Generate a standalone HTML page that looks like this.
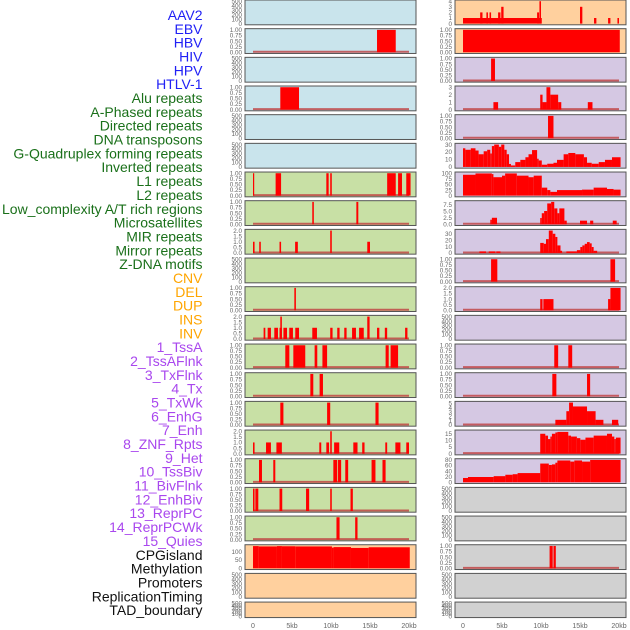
<!DOCTYPE html>
<html><head><meta charset="utf-8"><style>
html,body{margin:0;padding:0;background:#fff;}
svg{display:block;font-family:"Liberation Sans",sans-serif;}
</style></head><body>
<svg id="chart" width="630" height="630" viewBox="0 0 630 630" xmlns="http://www.w3.org/2000/svg"></svg>
<script>
const trackLabels = ["AAV2","EBV","HBV","HIV","HPV","HTLV-1","Alu repeats","A-Phased repeats","Directed repeats","DNA transposons","G-Quadruplex forming repeats","Inverted repeats","L1 repeats","L2 repeats","Low_complexity A/T rich regions","Microsatellites","MIR repeats","Mirror repeats","Z-DNA motifs","CNV","DEL","DUP","INS","INV","1_TssA","2_TssAFlnk","3_TxFlnk","4_Tx","5_TxWk","6_EnhG","7_Enh","8_ZNF_Rpts","9_Het","10_TssBiv","11_BivFlnk","12_EnhBiv","13_ReprPC","14_ReprPCWk","15_Quies","CPGisland","Methylation","Promoters","ReplicationTiming","TAD_boundary"];
const labelGroups = ["v","v","v","v","v","v","r","r","r","r","r","r","r","r","r","r","r","r","r","c","c","c","c","c","s","s","s","s","s","s","s","s","s","s","s","s","s","s","s","k","k","k","k","k"];
const xTickValues = [0,5,10,15,20];
const xTickLabels = ["0","5kb","10kb","15kb","20kb"];

// tick sets
const ticksEmpty = [0,100,200,300,400,500];
const ticksBin = [0,0.25,0.5,0.75,1];
const ticksTwo = [0,0.5,1,1.5,2];

// left column series [startKb, endKb, value]
const L2 = [[15.9,18.3,1]];
const L4 = [[3.5,5.9,1]];
const L7 = [[0,0.15,1],[2.9,3.6,1],[9.4,9.7,1],[9.9,10.1,1],[17.2,18.3,1],[18.6,19.1,1],[19.65,20.2,1]];
const L8 = [[7.6,7.8,1],[13.25,13.5,1]];
const L9 = [[0,0.2,1],[0.8,1.0,1],[3.4,3.6,1],[5.4,5.75,1],[9.9,10.1,2],[14.65,15,1]];
const L11 = [[5.3,5.5,1]];
const L12 = [[1.36,1.58,1],[1.88,2.3,1],[2.73,3.2,1],[3.4,3.7,1],[3.5,3.7,2],[3.9,4.36,1],[4.65,5.12,1],[5.42,5.9,1],[7.6,8.2,1],[9.9,10.2,1],[10.8,11.1,1],[11.7,12.0,1],[12.7,13.2,1],[13.6,14.2,1],[14.65,14.95,2],[15.9,16.2,1],[16.9,17.2,1],[19.5,19.8,1]];
const L13 = [[4.14,4.66,1],[5.17,6.7,1],[7.9,8.24,1],[8.9,9.5,1],[17.0,17.4,1],[17.64,18.6,1]];
const L14 = [[7.35,7.73,1],[8.54,8.97,1]];
const L15 = [[3.5,3.9,1],[9.5,9.9,1],[15.7,16.1,1]];
const L16 = [[0,0.2,1],[1.67,2.3,1],[3.0,3.7,1],[8.5,8.75,1],[9.4,9.75,1],[9.9,10.1,2],[10.4,11.06,1],[12.86,13.4,1],[14.0,14.3,1],[16.96,17.2,1],[18.25,18.9,1],[19.65,20.0,1]];
const L17 = [[0.77,1.15,1],[2.6,2.86,1],[10.3,10.8,1],[10.9,11.3,1],[11.83,12.2,1],[15.2,15.7,1],[16.6,17.0,1]];
const L18 = [[0,0.2,1],[0.3,0.68,1],[3.4,3.75,1],[6.8,7.2,1],[9.9,10.1,1],[12.5,12.8,1]];
const L19 = [[10.7,11.1,1],[13.1,13.4,1]];
const L20 = [[0,0.73,133],[0.73,3.07,131],[3.07,3.71,133],[3.71,5.42,132],[5.42,10.12,131],[10.12,10.33,124],[10.33,12.56,127],[12.56,14.83,122],[14.83,20.1,126]];

// right column series
const R1 = [[0,10.1,1],[2.2,2.5,2],[3.0,3.2,2],[3.4,3.6,2],[4.5,4.8,2],[4.9,5.2,3],[9.5,9.75,2],[9.8,10.0,4],[15.0,15.3,3],[16.8,17.1,1],[18.6,18.9,1],[19.8,20.0,1]];
const R2 = [[0,20.1,1]];
const R3 = [[3.6,4.1,1]];
const R4 = [[3.9,4.5,1],[9.9,10.2,2],[10.2,10.7,1],[10.7,11.2,3],[11.2,12.2,2],[12.2,12.6,1],[16,16.6,1]];
const R5 = [[10.9,11.6,1]];
const R6 = [[0,0.3,25],[0.3,1.0,23],[1.0,1.6,25],[1.6,2.0,22],[2.0,2.65,17],[2.65,3.1,21],[3.1,3.5,23],[3.5,3.7,18],[3.7,4.0,28],[4.0,4.6,30],[4.6,4.9,27],[4.9,5.3,30],[5.3,5.6,23],[5.6,5.9,17],[5.9,6.15,4],[6.15,6.7,2],[6.7,7.35,6.5],[7.35,8.0,9.5],[8.0,8.4,13],[8.4,8.85,17],[8.85,9.5,22.6],[9.5,9.7,11],[9.7,10.1,8.7],[10.1,10.8,3],[10.8,11.6,4.3],[11.6,12.05,5.6],[12.05,12.9,9.5],[12.9,13.5,17],[13.5,14.4,18.7],[14.4,15.5,17],[15.5,15.9,13],[15.9,16.5,5.6],[16.5,17.4,4.3],[17.4,18.2,6.5],[18.2,19.1,9.5],[19.1,20.2,13]];
const R7 = [[0,1.6,94],[1.6,3.7,100],[3.7,3.9,97],[3.9,5.0,83],[5.0,5.4,90],[5.4,6.9,100],[6.9,8.4,90],[8.4,9.06,83],[9.06,10.1,90],[10.1,10.8,36],[10.8,11.2,25],[11.2,12.05,17],[12.05,15.26,25],[15.26,16.75,27],[16.75,18.46,36],[18.46,19.3,30],[19.3,20.2,27]];
const R8 = [[3.5,3.7,1.75],[3.7,4.36,2.5],[9.9,10.1,2.4],[10.1,10.4,4.25],[10.4,10.8,5.1],[10.8,11.3,8],[11.3,11.7,8.6],[11.7,12.1,6.1],[12.1,12.35,4.25],[12.35,13.0,6.1],[13.0,13.3,1.4],[15.0,15.9,1.4],[16.3,16.7,1.4],[19.2,19.7,1.4]];
const R9 = [[2.1,2.95,2.5],[3.3,4.15,2.5],[4.27,4.8,2.5],[9.9,10.35,15.7],[10.35,10.64,14.3],[10.64,11.0,21.6],[11.0,11.5,35],[11.5,11.84,30],[11.84,12.1,25],[12.1,12.5,11.8],[12.5,12.7,3.4],[13.25,14.6,2.5],[14.6,15.04,4.4],[15.04,15.3,9.3],[15.3,15.6,11.8],[15.6,15.9,14.3],[15.9,16.24,17],[16.24,16.5,15],[16.5,16.75,9.3],[16.75,17.2,3.4]];
const R10 = [[3.6,4.4,1],[18.9,19.5,1]];
const R11 = [[9.9,10.2,1],[10.3,11.6,1],[18.6,18.9,1],[18.9,20.2,2]];
const R13 = [[11.7,12.2,1],[13.5,14.0,1]];
const R14 = [[11.45,11.97,1],[15.9,16.3,1]];
const R15 = [[11.84,13.25,1.2],[13.25,13.6,3.2],[13.6,14.1,5.2],[14.1,15.9,4.3],[15.9,17.0,3.2],[17.0,18.0,1.2],[19.1,19.9,1.2]];
const R16 = [[9.9,10.55,15],[10.55,10.9,13.6],[10.9,11.2,11],[11.2,11.4,12.9],[11.4,11.84,15],[11.84,12.1,16],[12.1,13.5,16.4],[13.5,13.85,13.6],[13.85,14.6,12.9],[14.6,15.04,11.7],[15.04,15.7,10.5],[15.7,16.75,12.1],[16.75,18.46,13.6],[18.46,19.1,15],[19.1,19.4,12.9],[19.4,19.6,11],[19.6,20.2,12.1]];
const R17 = [[0,0.64,15.5],[0.64,3.93,19],[3.93,5.43,22],[5.43,6.37,27],[6.37,7.0,29],[7.0,9.9,33],[9.9,11.0,67],[11.0,11.4,62],[11.4,11.84,64],[11.84,12.1,70],[12.1,13.76,78],[13.76,14.27,74],[14.27,15.26,78],[15.26,16.3,74],[16.3,20.2,80]];
const R20 = [[11.1,11.5,1],[11.6,11.9,1]];

const BG = {b:"#c9e4ec", g:"#c8e0a5", o:"#ffd09e", p:"#d5c8e3", k:"#d1d1d1"};
const leftPanels = [
 {bg:"b",t:ticksEmpty},{bg:"b",t:ticksBin,d:L2},{bg:"b",t:ticksEmpty},{bg:"b",t:ticksBin,d:L4},
 {bg:"b",t:ticksEmpty},{bg:"b",t:ticksEmpty},{bg:"g",t:ticksBin,d:L7},{bg:"g",t:ticksBin,d:L8},
 {bg:"g",t:ticksTwo,d:L9},{bg:"g",t:ticksEmpty},{bg:"g",t:ticksBin,d:L11},{bg:"g",t:ticksTwo,d:L12},
 {bg:"g",t:ticksBin,d:L13},{bg:"g",t:ticksBin,d:L14},{bg:"g",t:ticksBin,d:L15},{bg:"g",t:ticksTwo,d:L16},
 {bg:"g",t:ticksBin,d:L17},{bg:"g",t:ticksBin,d:L18},{bg:"g",t:ticksBin,d:L19},
 {bg:"o",t:[0,50,100],max:134,d:L20,nd:true},{bg:"o",t:ticksEmpty},{bg:"o",t:ticksEmpty}
];
const rightPanels = [
 {bg:"o",t:[0,1,2,3,4],d:R1,nd:true},{bg:"o",t:ticksBin,d:R2,nd:true},{bg:"p",t:ticksBin,d:R3},{bg:"p",t:[0,1,2,3],d:R4},
 {bg:"p",t:ticksBin,d:R5},{bg:"p",t:[0,10,20,30],max:30,d:R6,nd:true},{bg:"p",t:[0,25,50,75,100],max:101,d:R7,nd:true},
 {bg:"p",t:[0,2.5,5,7.5],max:8.6,d:R8,dec:1},{bg:"p",t:[0,10,20,30],max:35,d:R9},{bg:"p",t:ticksBin,d:R10},
 {bg:"p",t:ticksTwo,d:R11},{bg:"p",t:ticksEmpty},{bg:"p",t:ticksBin,d:R13},{bg:"p",t:ticksBin,d:R14},
 {bg:"p",t:[0,1,2,3,4,5],max:5.2,d:R15},{bg:"p",t:[0,5,10,15],max:16.9,d:R16},{bg:"p",t:[0,20,40,60,80],max:80,d:R17,nd:true},
 {bg:"k",t:ticksEmpty},{bg:"k",t:ticksEmpty},{bg:"k",t:ticksBin,d:R20},{bg:"k",t:ticksEmpty},{bg:"k",t:ticksEmpty}
];

const NS = "http://www.w3.org/2000/svg";
const svg = document.getElementById("chart");
function mk(tag, attrs, parent){ const e=document.createElementNS(NS,tag); for(const k in attrs) e.setAttribute(k,attrs[k]); (parent||svg).appendChild(e); return e; }

const colors = {v:"#2020f5", r:"#1a701a", c:"#ffa500", s:"#a947ee", k:"#111111"};
trackLabels.forEach((lab,i)=>{
  const t = mk("text",{x:202.5,y:20+i*13.84,"text-anchor":"end","font-size":"14",fill:colors[labelGroups[i]]});
  t.textContent = lab;
  
  
});

const panelW = 171, rowStep = 28.67;
function xScale(colX, kb){ return colX + 8 + kb*7.8; }
function fmt(v, t, dec){
  if (t===ticksBin) return v.toFixed(2);
  if (t===ticksTwo || dec) return v.toFixed(1);
  return String(v);
}
function drawPanel(p, colX, row, side){
  const top = row*rowStep;
  const h = row===21 ? 15.5 : 24.8;
  const g = mk("g",{});
  
  
  mk("rect",{x:colX,y:top,width:panelW,height:h,fill:BG[p.bg],stroke:"#555",'stroke-width':1},g);
  const ymax = p.max || p.t[p.t.length-1];
  const y0 = top+h-1.2, yt = top+1.2;
  const yScale = v => y0 - v/ymax*(y0-yt);
  p.t.forEach(v=>{
    const tx = mk("text",{x:colX-3,y:yScale(v)+2.2,"text-anchor":"end","font-size":"6.3",fill:"#666"},g);
    tx.textContent = fmt(v,p.t,p.dec);
    
    
  });
  if (p.d){
    if (!p.nd){
      const bl = mk("line",{x1:xScale(colX,0),x2:xScale(colX,20),y1:y0-0.5,y2:y0-0.5,stroke:"#c04040","stroke-width":2,opacity:0.8},g);
      
      
    }
    p.d.forEach(s=>{
      const x1 = xScale(colX,s[0]), x2 = xScale(colX,s[1]);
      const r = mk("rect",{x:x1,y:yScale(s[2]),width:Math.max(x2-x1,1.2),height:y0-yScale(s[2]),fill:"#ff0000"},g);
      
      
    });
  }
}
leftPanels.forEach((p,i)=>drawPanel(p,245,i,'left'));
rightPanels.forEach((p,i)=>drawPanel(p,455,i,'right'));

[245,455].forEach(colX=>{
  xTickValues.forEach((v,i)=>{
    const t = mk("text",{x:xScale(colX,v),y:628,"text-anchor":"middle","font-size":"7",fill:"#666"});
    t.textContent = xTickLabels[i];
    
    
  });
});
</script>
</body></html>
